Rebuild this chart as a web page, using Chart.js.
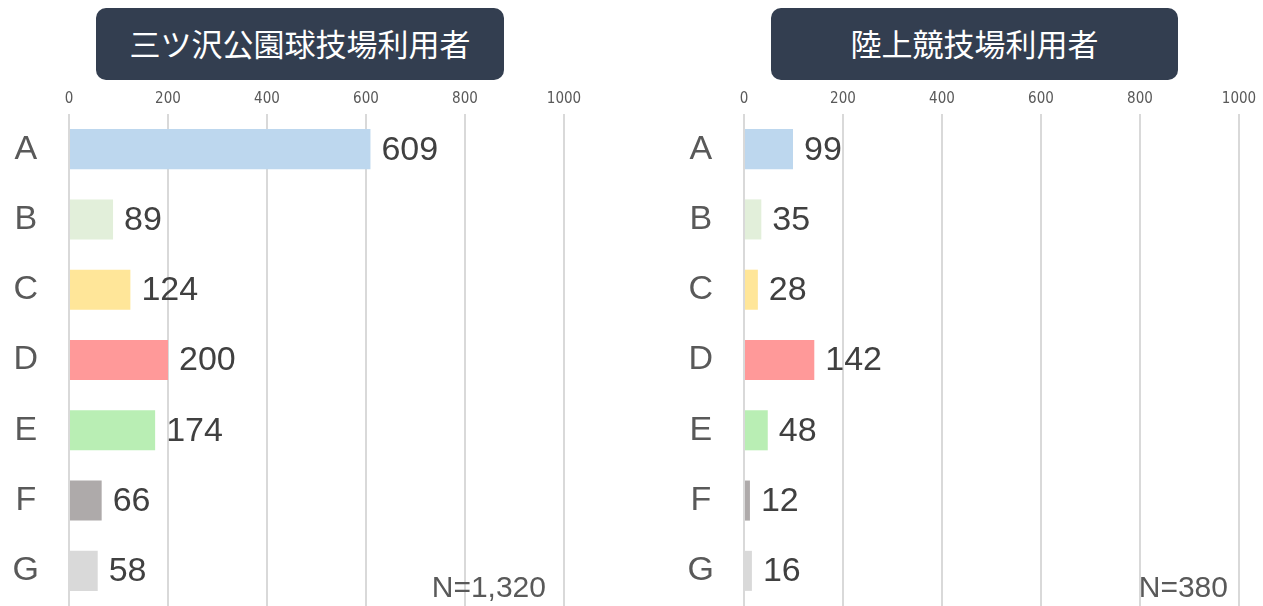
<!DOCTYPE html>
<html lang="ja">
<head>
<meta charset="UTF-8">
<title>利用者</title>
<script src="https://cdn.jsdelivr.net/npm/chart.js@4"></script>
<style>
  body { margin: 0; width: 1263px; height: 606px; overflow: hidden; background: #fff; position: relative; }
  canvas { position: absolute; top: 0; }
  .title {
    position: absolute; top: 8px; height: 72px; box-sizing: border-box; padding-bottom: 3px;
    display: flex; align-items: center; justify-content: center;
    background: #333e50; border-radius: 10px; color: #fff;
    font-family: "Noto Sans CJK JP", sans-serif; font-size: 31px; z-index: 2;
  }
  .total {
    position: absolute; top: 572px; width: 200px; text-align: right;
    font: 30px/30px "Liberation Sans", Arial, sans-serif; color: #595959; z-index: 2;
  }
</style>
</head>
<body>
<canvas id="left" width="600" height="606" style="left:0"></canvas>
<canvas id="right" width="588" height="606" style="left:675px"></canvas>
<div class="title" id="t1" style="left:96px;width:408px"></div>
<div class="title" id="t2" style="left:771px;width:407px"></div>
<div class="total" id="n1" style="left:346px"></div>
<div class="total" id="n2" style="left:1028px"></div>
<script>
// データ
const categories = ['A', 'B', 'C', 'D', 'E', 'F', 'G'];
const ballparkUsers = [609, 89, 124, 200, 174, 66, 58];
const stadiumUsers = [99, 35, 28, 142, 48, 12, 16];
const xTickValues = [0, 200, 400, 600, 800, 1000];
const titles = ['三ツ沢公園球技場利用者', '陸上競技場利用者'];
const totals = ['N=1,320', 'N=380'];

const barColors = ['#bdd7ee', '#e2efda', '#ffe699', '#ff9999', '#b9eeb4', '#aeaaaa', '#d9d9d9'];

document.getElementById('t1').textContent = titles[0];
document.getElementById('t2').textContent = titles[1];
document.getElementById('n1').textContent = totals[0];
document.getElementById('n2').textContent = totals[1];

// 棒の右に数値を描く
const valueLabels = {
  id: 'valueLabels',
  afterDatasetsDraw(chart) {
    const ctx = chart.ctx;
    const meta = chart.getDatasetMeta(0);
    const data = chart.data.datasets[0].data;
    ctx.save();
    ctx.font = '34px "Liberation Sans", Arial, sans-serif';
    ctx.fillStyle = '#404040';
    ctx.textAlign = 'left';
    ctx.textBaseline = 'middle';
    meta.data.forEach((bar, i) => ctx.fillText(data[i], bar.x + 11, bar.y + 1));
    ctx.restore();
  }
};

function makeChart(id, values, padRight) {
  return new Chart(document.getElementById(id), {
    type: 'bar',
    data: {
      labels: categories,
      datasets: [{
        data: values,
        backgroundColor: barColors,
        borderWidth: 0,
        categoryPercentage: 1,
        barPercentage: 0.57
      }]
    },
    options: {
      indexAxis: 'y',
      responsive: false,
      animation: false,
      devicePixelRatio: 1,
      layout: { padding: { left: 0, right: padRight, top: 0, bottom: 0 } },
      plugins: { legend: { display: false }, tooltip: { enabled: false } },
      scales: {
        x: {
          position: 'top',
          min: 0,
          max: 1000,
          afterBuildTicks: s => { s.ticks = xTickValues.map(v => ({ value: v })); },
          afterFit: s => { s.height = 114; },
          grid: { color: '#d9d9d9', lineWidth: 2, drawTicks: false },
          border: { display: false },
          ticks: {
            padding: 6,
            color: '#595959',
            callback: v => String(v),
            font: { family: '"Liberation Sans Narrow", "DejaVu Sans Condensed", sans-serif', size: 15 }
          }
        },
        y: {
          afterFit: s => { s.width = 69; s.paddingTop = 0; s.paddingBottom = 0; },
          grid: { display: false, drawTicks: false },
          border: { display: false },
          ticks: {
            padding: 30,
            crossAlign: 'center',
            color: '#595959',
            font: { family: '"Liberation Sans", Arial, sans-serif', size: 34 }
          }
        }
      }
    },
    plugins: [valueLabels]
  });
}

makeChart('left', ballparkUsers, 36);
makeChart('right', stadiumUsers, 24);
</script>
</body>
</html>
